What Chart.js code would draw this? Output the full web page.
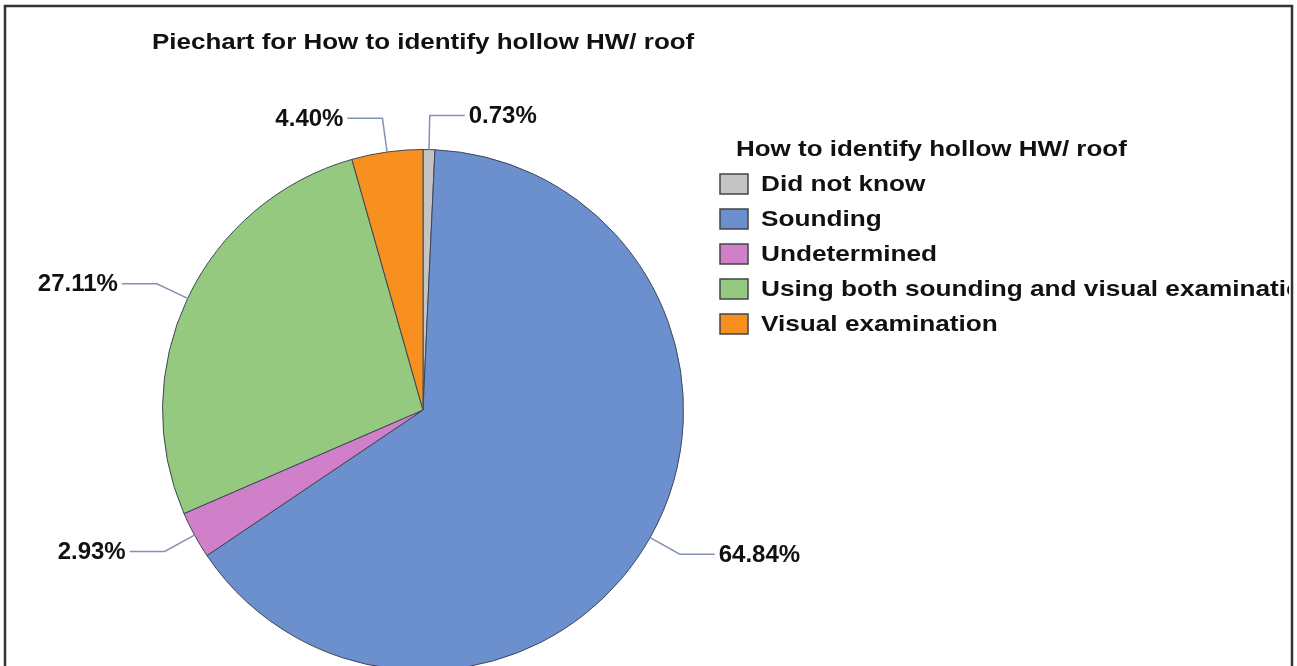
<!DOCTYPE html>
<html>
<head>
<meta charset="utf-8">
<script src="https://cdn.jsdelivr.net/npm/chart.js@4.4.1/dist/chart.umd.min.js"></script>
<style>
  html, body { margin: 0; padding: 0; background: #fff; overflow: hidden; }
  #wrap { width: 1297px; height: 666px; overflow: hidden; position: relative; }
</style>
</head>
<body>
<div id="wrap"><canvas id="chart" width="1297" height="700"></canvas></div>
<script>
// chart data
const chartTitle = "Piechart for How to identify hollow HW/ roof";
const legendTitle = "How to identify hollow HW/ roof";
const categories = ["Did not know", "Sounding", "Undetermined", "Using both sounding and visual examination", "Visual examination"];
const percents = [0.73, 64.84, 2.93, 27.11, 4.40];
const sliceColors = ["#c4c4c4", "#6c8fce", "#cf80c8", "#94c97f", "#f7901e"];

const FONT = "'Liberation Sans', Arial, sans-serif";

// the original text is a little wider than Arial, so stretch it horizontally
function wideText(ctx, text, x, y, sx) {
  ctx.save();
  ctx.translate(x, y);
  ctx.scale(sx, 1);
  ctx.fillText(text, 0, 0);
  ctx.restore();
}

// title, frame, slice labels with leader lines and the legend
const decorations = {
  id: "decorations",
  afterDraw(chart) {
    const ctx = chart.ctx;
    ctx.save();

    // outer frame
    ctx.strokeStyle = "#333";
    ctx.lineWidth = 2.5;
    ctx.strokeRect(5, 6, 1287, 720);

    // title
    ctx.fillStyle = "#111";
    ctx.font = "bold 22px " + FONT;
    ctx.textAlign = "left";
    ctx.textBaseline = "alphabetic";
    wideText(ctx, chartTitle, 152, 49, 1.18);

    // slice labels
    const meta = chart.getDatasetMeta(0);
    ctx.font = "bold 24px " + FONT;
    meta.data.forEach((arc, i) => {
      const p = arc.getProps(["x", "y", "startAngle", "endAngle", "outerRadius"], true);
      const mid = (p.startAngle + p.endAngle) / 2;
      const cos = Math.cos(mid), sin = Math.sin(mid);
      const x0 = p.x + p.outerRadius * cos, y0 = p.y + p.outerRadius * sin;
      const x1 = p.x + (p.outerRadius + 34) * cos, y1 = p.y + (p.outerRadius + 34) * sin;
      const dir = cos >= 0 ? 1 : -1;
      const x2 = x1 + dir * 35;
      ctx.strokeStyle = "#8391b4";
      ctx.lineWidth = 1.5;
      ctx.beginPath();
      ctx.moveTo(x0, y0);
      ctx.lineTo(x1, y1);
      ctx.lineTo(x2, y1);
      ctx.stroke();
      ctx.fillStyle = "#111";
      ctx.textAlign = dir > 0 ? "left" : "right";
      ctx.textBaseline = "middle";
      ctx.fillText(percents[i].toFixed(2) + "%", x2 + dir * 4, y1 + 1);
    });

    // legend, clipped at the frame like the original
    ctx.beginPath();
    ctx.rect(0, 0, 1289, 700);
    ctx.clip();
    ctx.fillStyle = "#111";
    ctx.font = "bold 22px " + FONT;
    ctx.textAlign = "left";
    ctx.textBaseline = "middle";
    wideText(ctx, legendTitle, 736, 150, 1.18);
    categories.forEach((c, i) => {
      const y = 184 + i * 35;
      ctx.fillStyle = sliceColors[i];
      ctx.fillRect(720, y - 10, 28, 20);
      ctx.strokeStyle = "#444";
      ctx.lineWidth = 1.5;
      ctx.strokeRect(720, y - 10, 28, 20);
      ctx.fillStyle = "#111";
      wideText(ctx, c, 761, y + 1, 1.19);
    });
    ctx.restore();
  }
};

new Chart(document.getElementById("chart"), {
  type: "pie",
  data: {
    labels: categories,
    datasets: [{
      data: percents,
      backgroundColor: sliceColors,
      borderColor: "#3d4658",
      borderWidth: 1
    }]
  },
  options: {
    responsive: false,
    animation: false,
    layout: { padding: { left: 162, right: 613, top: 149, bottom: 29 } },
    plugins: {
      legend: { display: false },
      tooltip: { enabled: false },
      title: { display: false }
    }
  },
  plugins: [decorations]
});
</script>
</body>
</html>
